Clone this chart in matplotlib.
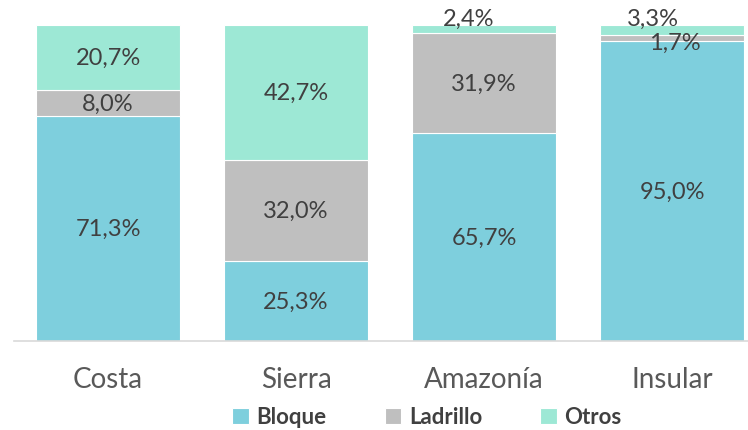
import numpy as np
import matplotlib.pyplot as plt

# Data
regiones = ["Costa", "Sierra", "Amazonía", "Insular"]
bloque = [71.3, 25.3, 65.7, 95.0]
ladrillo = [8.0, 32.0, 31.9, 1.7]
otros = [20.7, 42.7, 2.4, 3.3]

series = [("Bloque", bloque, "#7ecfdd"),
          ("Ladrillo", ladrillo, "#bfbfbf"),
          ("Otros", otros, "#9de8d5")]

txt = "#404040"
plt.rcParams['font.family'] = ['Lato', 'DejaVu Sans']

fig = plt.figure(figsize=(7.48, 4.31), dpi=100)
# axis extends past the right edge like in the original
ax = fig.add_axes([14 / 748, 89 / 431, 752 / 748, 316 / 431])

x = np.arange(len(regiones))
bottom = np.zeros(len(regiones))
for name, vals, col in series:
    ax.bar(x, vals, 0.766, bottom=bottom, color=col, label=name,
           edgecolor="white", linewidth=0.8)
    bottom += np.array(vals)

# small segments get their label moved a bit (offset in points)
offsets = {("Otros", 2): (-11, 5), ("Otros", 3): (-14, 5), ("Ladrillo", 3): (2, -3)}

bottom = np.zeros(len(regiones))
for name, vals, col in series:
    for i, v in enumerate(vals):
        yc = bottom[i] + v / 2
        dx, dy = offsets.get((name, i), (0, 0))
        if (name, i) in [("Otros", 2), ("Otros", 3)]:
            yc = bottom[i] + v
        ax.annotate(f"{v:.1f}%".replace(".", ","), (x[i], yc),
                    xytext=(dx, dy), textcoords="offset points",
                    ha="center", va="center", fontsize=17, color=txt)
    bottom += np.array(vals)

ax.set_xlim(-0.5, 3.5)
ax.set_ylim(0, 100)
ax.set_yticks([])
ax.set_xticks(x)
ax.set_xticklabels(regiones, fontsize=20, color="#595959")
ax.tick_params(axis="x", length=0, pad=18)
for s in ["top", "left", "right"]:
    ax.spines[s].set_visible(False)
ax.spines["bottom"].set_color("#d9d9d9")
ax.spines["bottom"].set_linewidth(1.2)

leg = fig.legend(loc="center", bbox_to_anchor=(427 / 748, 1 - 418 / 431),
                 ncol=3, frameon=False, handlelength=0.75, handleheight=0.75,
                 handletextpad=0.35, columnspacing=2.6,
                 prop={"size": 16, "weight": "bold"})
for t in leg.get_texts():
    t.set_color(txt)

plt.savefig("out.png", dpi=100)
